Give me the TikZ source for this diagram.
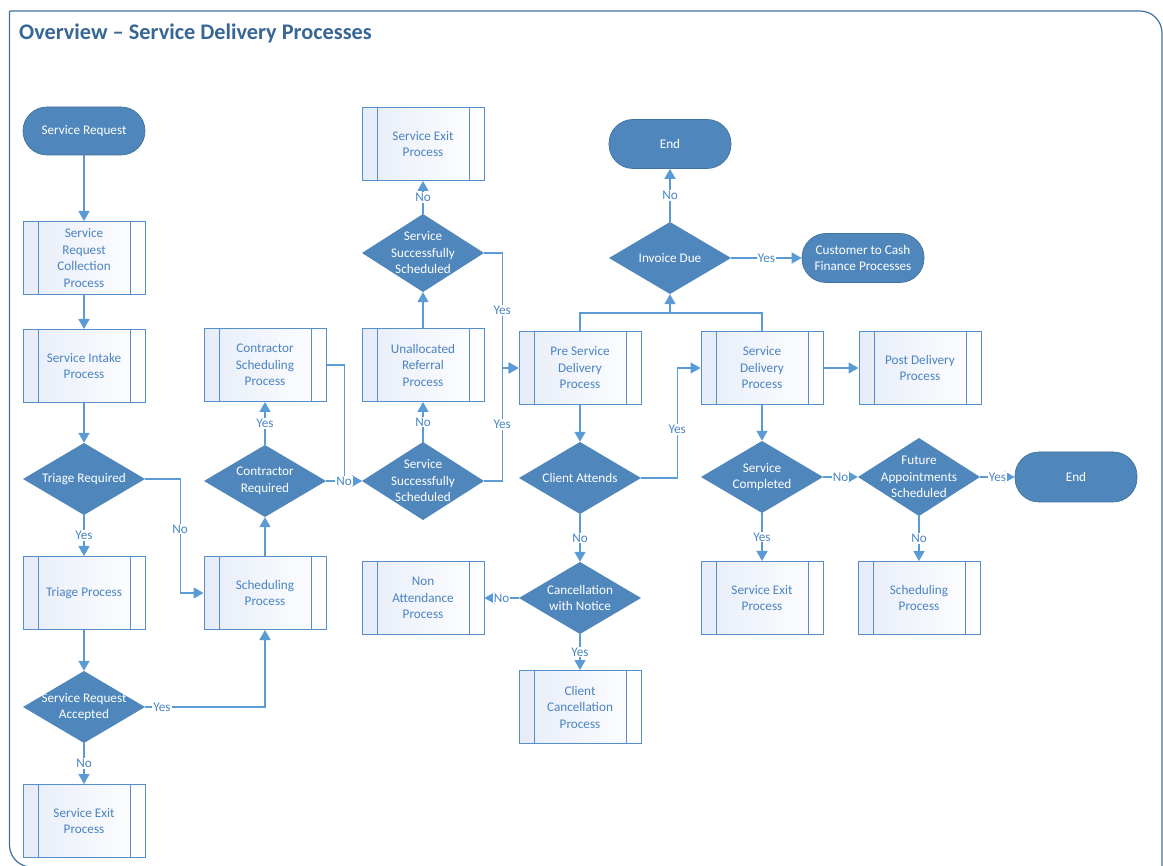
\documentclass[tikz,border=0pt]{standalone}
\usepackage{fontspec}
\setmainfont{Carlito}
\usetikzlibrary{arrows.meta}
\definecolor{decfill}{RGB}{79,135,188}
\definecolor{decborder}{RGB}{65,113,156}
\definecolor{procborder}{RGB}{84,142,204}
\definecolor{proctext}{RGB}{74,132,194}
\definecolor{procL}{RGB}{230,236,248}
\definecolor{conncol}{RGB}{91,155,213}
\definecolor{labcol}{RGB}{74,134,198}
\definecolor{framecol}{RGB}{65,113,156}
\definecolor{titlecol}{RGB}{56,102,150}
\begin{document}
\begin{tikzpicture}[x=1pt,y=-1pt,
  proc/.style={rectangle, draw=procborder, line width=1pt, left color=procL, right color=white,
    minimum width=122pt, minimum height=73pt, inner sep=0pt, align=center, text=proctext,
    font=\fontsize{13.2}{16.5}\selectfont,
    path picture={\draw[procborder, line width=1pt]
      ([xshift=15pt]path picture bounding box.north west) -- ([xshift=15pt]path picture bounding box.south west)
      ([xshift=-15pt]path picture bounding box.north east) -- ([xshift=-15pt]path picture bounding box.south east);}},
  term/.style={rectangle, rounded corners=24pt, fill=decfill, draw=decborder, line width=0.7pt,
    minimum width=122pt, minimum height=48pt, inner sep=0pt, text=white, align=center,
    font=\fontsize{13.2}{16.5}\selectfont},
  dec/.style={rectangle, minimum width=122pt, minimum height=72pt, inner sep=0pt, text=white,
    align=center, font=\fontsize{13.2}{16.5}\selectfont,
    path picture={\fill[decfill] (path picture bounding box.north) -- (path picture bounding box.east)
      -- (path picture bounding box.south) -- (path picture bounding box.west) -- cycle;}},
  conn/.style={draw=conncol, line width=1.4pt, -{Triangle[length=10pt,width=11pt]}},
  plain/.style={draw=conncol, line width=1.4pt},
  lab/.style={fill=white, text=labcol, inner sep=1pt, font=\fontsize{13.2}{15}\selectfont}
]
\useasboundingbox (0,0) rectangle (1163,866);
\fill[white] (0,0) rectangle (1163,866);
% frame
\draw[framecol, line width=1.2pt, rounded corners=22pt] (9.5,11) -- (1162,11) -- (1162,900);
\draw[framecol, line width=1.2pt, rounded corners=22pt] (9.5,11) -- (9.5,867) -- (1200,867);
\node[anchor=west, font=\bfseries\fontsize{22.3}{26}\selectfont, text=titlecol, inner sep=0pt] (title) at (19,33) {Overview – Service Delivery Processes};

% column 1
\node[term] (sr) at (84,131) {Service Request};
\node[proc] (srcp) at (84,258) {Service\\Request\\Collection\\Process};
\node[proc] (sip) at (84,366) {Service Intake\\Process};
\node[dec] (tr) at (84,479) {Triage Required};
\node[proc] (tp) at (84,593) {Triage Process};
\node[dec] (sra) at (84,707) {Service Request\\Accepted};
\node[proc] (se1) at (84,821) {Service Exit\\Process};
% column 2
\node[proc] (csp) at (265,365) {Contractor\\Scheduling\\Process};
\node[dec] (cr) at (265,481) {Contractor\\Required};
\node[proc] (sp1) at (265,593) {Scheduling\\Process};
% column 3
\node[proc] (se2) at (423,144) {Service Exit\\Process};
\node[dec, minimum height=78pt] (ssst) at (423,253) {Service\\Successfully\\Scheduled};
\node[proc] (ur) at (423,365) {Unallocated\\Referral\\Process};
\node[dec, minimum height=78pt] (sssb) at (423,481) {Service\\Successfully\\Scheduled};
\node[proc] (na) at (423,598) {Non\\Attendance\\Process};
% column 4
\node[proc] (psdp) at (580,368) {Pre Service\\Delivery\\Process};
\node[dec] (ca) at (580,478) {Client Attends};
\node[dec] (cwn) at (580,598) {Cancellation\\with Notice};
\node[proc] (cc) at (580,707) {Client\\Cancellation\\Process};
% column 5
\node[term, minimum height=49pt] (end1) at (670,144) {End};
\node[dec] (id) at (670,258) {Invoice Due};
% column 6
\node[proc] (sdp) at (762,368) {Service\\Delivery\\Process};
\node[dec] (sc) at (762,477) {Service\\Completed};
\node[proc] (se3) at (762,598) {Service Exit\\Process};
\node[term, minimum height=49pt] (c2c) at (863,258) {Customer to Cash\\Finance Processes};
% column 7
\node[proc] (pd) at (920,368) {Post Delivery\\Process};
\node[dec, minimum height=78pt] (fa) at (919,477) {Future\\Appointments\\Scheduled};
\node[proc] (sp2) at (919,598) {Scheduling\\Process};
\node[term, minimum height=50pt] (end2) at (1076,477) {End};

% connectors
\draw[conn] (sr) -- (srcp);
\draw[conn] (srcp) -- (sip);
\draw[conn] (sip) -- (tr);
\draw[conn] (tr) -- node[lab]{Yes} (tp);
\draw[conn] (tr.east) -- ++(35,0) |- node[lab, pos=0.22]{No} (sp1.west);
\draw[conn] (tp) -- (sra);
\draw[conn] (sra.east) -| node[lab, pos=0.07]{Yes} (sp1.south);
\draw[conn] (sra) -- node[lab]{No} (se1);
\draw[conn] (sp1) -- (cr);
\draw[conn] (cr) -- node[lab]{Yes} (csp);
\draw[conn] (csp.east) -- ++(18,0) |- (sssb.west);
\draw[conn] (cr.east) -- node[lab]{No} (sssb.west);
\draw[conn] (sssb) -- node[lab]{No} (ur);
\draw[conn] (ur) -- (ssst);
\draw[conn] (ssst) -- node[lab]{No} (se2);
\draw[conn] (ssst.east) -- ++(18,0) |- node[lab, pos=0.25]{Yes} (psdp.west);
\draw[conn] (sssb.east) -- ++(18,0) |- node[lab, pos=0.25]{Yes} (psdp.west);
\draw[conn] (psdp) -- (ca);
\draw[conn] (ca.east) -- ++(36,0) |- node[lab, pos=0.22]{Yes} (sdp.west);
\draw[conn] (ca) -- node[lab]{No} (cwn);
\draw[conn] (cwn) -- node[lab]{No} (na);
\draw[conn] (cwn) -- node[lab]{Yes} (cc);
\coordinate (jn) at (670,313);
\draw[plain] (psdp.north) |- (jn);
\draw[plain] (sdp.north) |- (jn);
\draw[conn] (jn) -- (id.south);
\draw[conn] (id) -- node[lab]{No} (end1);
\draw[conn] (id) -- node[lab]{Yes} (c2c);
\draw[conn] (sdp) -- (pd);
\draw[conn] (sdp) -- (sc);
\draw[conn] (sc) -- node[lab]{No} (fa);
\draw[conn] (sc) -- node[lab]{Yes} (se3);
\draw[conn] (fa) -- node[lab]{Yes} (end2);
\draw[conn] (fa) -- node[lab]{No} (sp2);
\end{tikzpicture}
\end{document}
